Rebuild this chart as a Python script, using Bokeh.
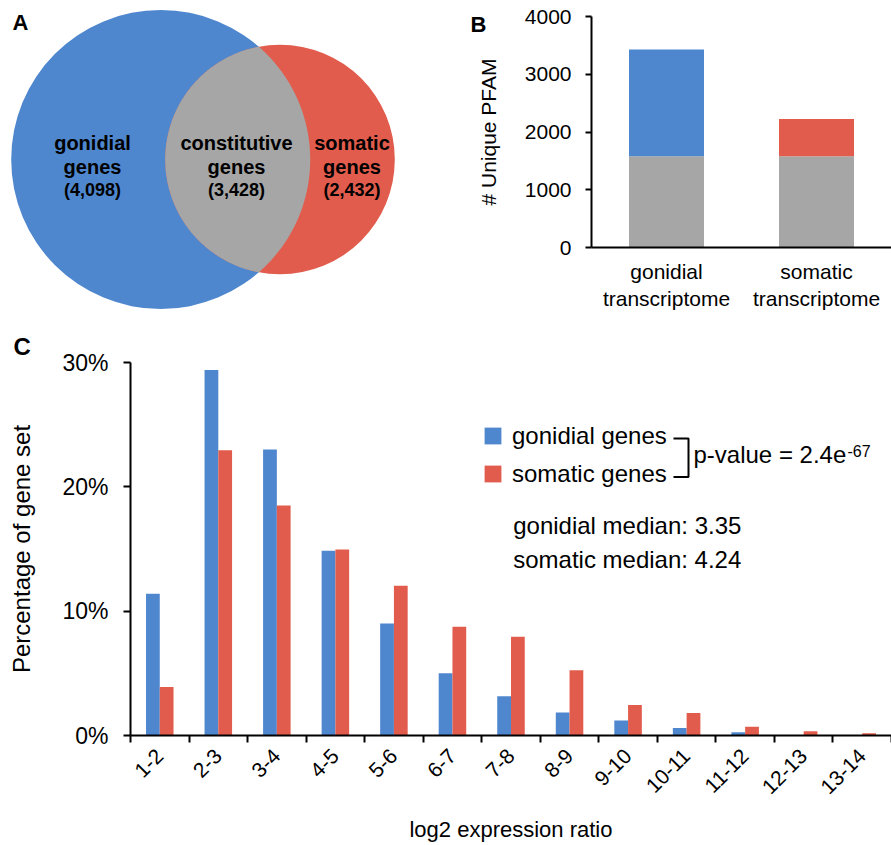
import math
import numpy as np
from bokeh.plotting import figure
from bokeh.models import (Range1d, FactorRange, FixedTicker, PrintfTickFormatter,
                          CustomJSTickFormatter, Label)
from bokeh.layouts import column, row
from bokeh.embed import file_html
from bokeh.resources import INLINE
from bokeh.core.properties import value

FONT = "Liberation Sans"
BLUE = "#4F87CF"
RED = "#E15C4C"
GRAY = "#A6A6A6"
INK = "#000000"

# ---------------- data ----------------
# Panel A: Venn diagram
venn_names = ["gonidial", "constitutive", "somatic"]
venn_counts = [4098, 3428, 2432]

# Panel B: unique PFAM per transcriptome
b_cats = ["gonidial\ntranscriptome", "somatic\ntranscriptome"]
b_shared = [1580, 1580]
b_specific = [1850, 645]

# Panel C: distribution of log2 expression ratios
c_cats = ["1-2", "2-3", "3-4", "4-5", "5-6", "6-7", "7-8", "8-9", "9-10",
          "10-11", "11-12", "12-13", "13-14"]
c_gonidial = [11.4, 29.4, 23.0, 14.85, 9.0, 5.0, 3.15, 1.85, 1.2, 0.6, 0.27, 0.04, 0.02]
c_somatic = [3.9, 22.95, 18.5, 14.95, 12.05, 8.75, 7.95, 5.25, 2.45, 1.8, 0.7, 0.35, 0.18]
c_series = ["gonidial genes", "somatic genes"]
median_gonidial = 3.35
median_somatic = 4.24
p_mantissa = "2.4"
p_exponent = "-67"

# ---------------- layout ----------------
W_A, W_B = 448, 443
H_TOP, H_C = 328, 517
MID = 0.35   # distance baseline -> text middle, in em


def style(p):
    p.grid.visible = False
    p.outline_line_color = None
    p.background_fill_color = "white"
    p.border_fill_color = "white"
    p.frame_align = False


# ---------------- Panel A ----------------
pA = figure(width=W_A, height=H_TOP, x_range=Range1d(0, W_A), y_range=Range1d(0, H_TOP),
            toolbar_location=None, output_backend="svg", min_border=0)
style(pA)
pA.axis.visible = False


def ay(ref):
    return H_TOP - ref


c1 = (160.2, ay(159.0)); r1 = 149.5
c2 = (279.5, ay(159.0)); r2 = 114.8
pA.circle(x=[c1[0]], y=[c1[1]], radius=r1, fill_color=BLUE, line_color=None)
pA.circle(x=[c2[0]], y=[c2[1]], radius=r2, fill_color=RED, line_color=None)

d = c2[0] - c1[0]
a = (r1 ** 2 - r2 ** 2 + d ** 2) / (2 * d)
h = math.sqrt(r1 ** 2 - a ** 2)
t1 = math.atan2(h, a)
t2 = math.atan2(h, a - d)
ang1 = np.linspace(-t1, t1, 160)
ang2 = np.linspace(t2, 2 * math.pi - t2, 160)
lx = np.concatenate([c1[0] + r1 * np.cos(ang1), c2[0] + r2 * np.cos(ang2)])
ly = np.concatenate([c1[1] + r1 * np.sin(ang1), c2[1] + r2 * np.sin(ang2)])
pA.patch(x=lx, y=ly, fill_color=GRAY, line_color=None)

vx = [92, 236, 351.5]
common = dict(text_font=value(FONT), text_font_style="bold", text_align="center",
              text_baseline="middle", text_color=INK)
pA.text(x=vx, y=[ay(149.3 - MID * 20)] * 3, text=venn_names, text_font_size="20px", **common)
pA.text(x=vx, y=[ay(173.3 - MID * 20)] * 3, text=["genes"] * 3, text_font_size="20px", **common)
pA.text(x=vx, y=[ay(196 - MID * 18)] * 3, text=[f"({n:,})" for n in venn_counts],
        text_font_size="18px", **common)
pA.add_layout(Label(x=20, y=ay(22), text="A", text_font=FONT, text_font_style="bold",
                    text_font_size="22px", text_align="center", text_baseline="middle",
                    text_color=INK))

# ---------------- Panel B ----------------
pB = figure(width=W_B, height=H_TOP, x_range=FactorRange(*b_cats, range_padding=0),
            y_range=Range1d(0, 4000), toolbar_location=None, output_backend="svg",
            title="\nB", min_border_left=591 - W_A, min_border_right=0,
            min_border_top=16, min_border_bottom=81)
style(pB)
pB.title.align = "left"
pB.title.offset = 470 - 591
pB.title.standoff = -40
pB.title.vertical_align = "bottom"
pB.title.text_font = FONT
pB.title.text_font_size = "22px"
pB.title.text_font_style = "bold"
pB.title.text_color = INK

b_tops = [s + g for s, g in zip(b_shared, b_specific)]
pB.vbar(x=b_cats, bottom=0, top=b_shared, width=0.5, fill_color=GRAY, line_color=None)
pB.vbar(x=b_cats, bottom=b_shared, top=b_tops, width=0.5, fill_color=[BLUE, RED],
        line_color=None)

yb = pB.yaxis[0]
yb.ticker = FixedTicker(ticks=[0, 1000, 2000, 3000, 4000])
yb.major_tick_out = 6
yb.major_tick_in = 0
yb.minor_tick_out = 0
yb.minor_tick_in = 0
yb.axis_line_width = 2
yb.major_tick_line_width = 2
yb.major_label_text_font = FONT
yb.major_label_text_font_size = "21px"
yb.major_label_text_color = INK
yb.major_label_standoff = 14
yb.axis_label = "# Unique PFAM"
yb.axis_label_text_font = FONT
yb.axis_label_text_font_size = "21px"
yb.axis_label_text_font_style = "normal"
yb.axis_label_text_color = INK
yb.axis_label_standoff = 22

xb = pB.xaxis[0]
xb.major_tick_line_color = None
xb.major_tick_out = 0
xb.axis_line_width = 2
xb.major_label_text_font = FONT
xb.major_label_text_font_size = "21px"
xb.major_label_text_color = INK
xb.major_label_standoff = 12

# ---------------- Panel C ----------------
n = len(c_cats)
pC = figure(width=W_A + W_B, height=H_C, x_range=Range1d(0, n), y_range=Range1d(0, 30),
            toolbar_location=None, output_backend="svg", title="C",
            min_border_left=130, min_border_right=0,
            min_border_top=362 - H_TOP, min_border_bottom=H_TOP + H_C - 736)
style(pC)
pC.title.align = "left"
pC.title.offset = 13 - 130
pC.title.standoff = 3
pC.title.vertical_align = "middle"
pC.title.text_font = FONT
pC.title.text_font_size = "24px"
pC.title.text_font_style = "bold"
pC.title.text_color = INK

centers = np.arange(n) + 0.5
bw = 0.235
pC.vbar(x=centers - bw / 2, top=c_gonidial, width=bw, fill_color=BLUE, line_color=None,
        legend_label=c_series[0])
pC.vbar(x=centers + bw / 2, top=c_somatic, width=bw, fill_color=RED, line_color=None,
        legend_label=c_series[1])

yc = pC.yaxis[0]
yc.ticker = FixedTicker(ticks=[0, 10, 20, 30])
yc.formatter = PrintfTickFormatter(format="%d%%")
yc.major_tick_out = 7
yc.major_tick_in = 0
yc.minor_tick_out = 0
yc.minor_tick_in = 0
yc.axis_line_width = 2
yc.major_tick_line_width = 2
yc.major_label_text_font = FONT
yc.major_label_text_font_size = "23px"
yc.major_label_text_color = INK
yc.major_label_standoff = 15
yc.axis_label = "Percentage of gene set"
yc.axis_label_text_font = FONT
yc.axis_label_text_font_size = "24px"
yc.axis_label_text_font_style = "normal"
yc.axis_label_text_color = INK
yc.axis_label_standoff = 24

xc = pC.xaxis[0]
xc.ticker = FixedTicker(ticks=list(centers), minor_ticks=list(range(n + 1)))
xc.formatter = CustomJSTickFormatter(args=dict(labels=c_cats), code="""
    const i = Math.floor(tick);
    return (i >= 0 && i < labels.length) ? labels[i] : "";
""")
xc.major_tick_line_color = None
xc.major_tick_out = 7
xc.major_tick_in = 0
xc.minor_tick_out = 7
xc.minor_tick_in = 0
xc.minor_tick_line_color = INK
xc.minor_tick_line_width = 2
xc.axis_line_width = 2
xc.major_label_orientation = math.pi / 4
xc.major_label_text_font = FONT
xc.major_label_text_font_size = "21px"
xc.major_label_text_color = INK
xc.major_label_standoff = 10
xc.axis_label = "log2 expression ratio"
xc.axis_label_text_font = FONT
xc.axis_label_text_font_size = "22px"
xc.axis_label_text_font_style = "normal"
xc.axis_label_text_color = INK
xc.axis_label_standoff = 14


def fx(ref):   # frame-relative screen x
    return ref - 130


def fy(ref):   # frame-relative screen y (up)
    return 736 - ref


LG_ITEM, LG_GLYPH, LG_SP = 30, 21, 8
lg = pC.legend[0]
lg_top = 426 - (LG_ITEM - LG_GLYPH) / 2
lg.location = (fx(482), fy(lg_top + 2 * LG_ITEM + LG_SP))
lg.padding = 0
lg.margin = 0
lg.border_line_color = None
lg.background_fill_alpha = 0
lg.glyph_width = LG_GLYPH
lg.glyph_height = LG_GLYPH
lg.label_height = LG_ITEM
lg.label_standoff = 9
lg.spacing = LG_SP
lg.label_text_font = FONT
lg.label_text_font_size = "24px"
lg.label_text_color = INK


def dx(ref):
    return (ref - 130) / (891 - 130) * n


def dy(ref):
    return (736 - ref) / (736 - 362) * 30


pC.line(x=[dx(673), dx(688), dx(688), dx(673)],
        y=[dy(438.3), dy(438.3), dy(476.7), dy(476.7)], line_color=INK, line_width=2)


def lab(x, base, text, size=24, **kw):
    pC.add_layout(Label(x=fx(x), y=fy(base - MID * size), x_units="screen", y_units="screen",
                        text=text, text_font=FONT, text_font_size=f"{size}px",
                        text_color=INK, text_baseline="middle", **kw))


lab(693, 463, f"p-value = {p_mantissa}e")
lab(847, 457, p_exponent, size=16)
lab(512.7, 534, f"gonidial median: {median_gonidial:.2f}")
lab(512.7, 568.3, f"somatic median: {median_somatic:.2f}")

layout = column(row(pA, pB), pC)
open("out.html", "w").write(file_html(layout, INLINE, title="Figure"))
